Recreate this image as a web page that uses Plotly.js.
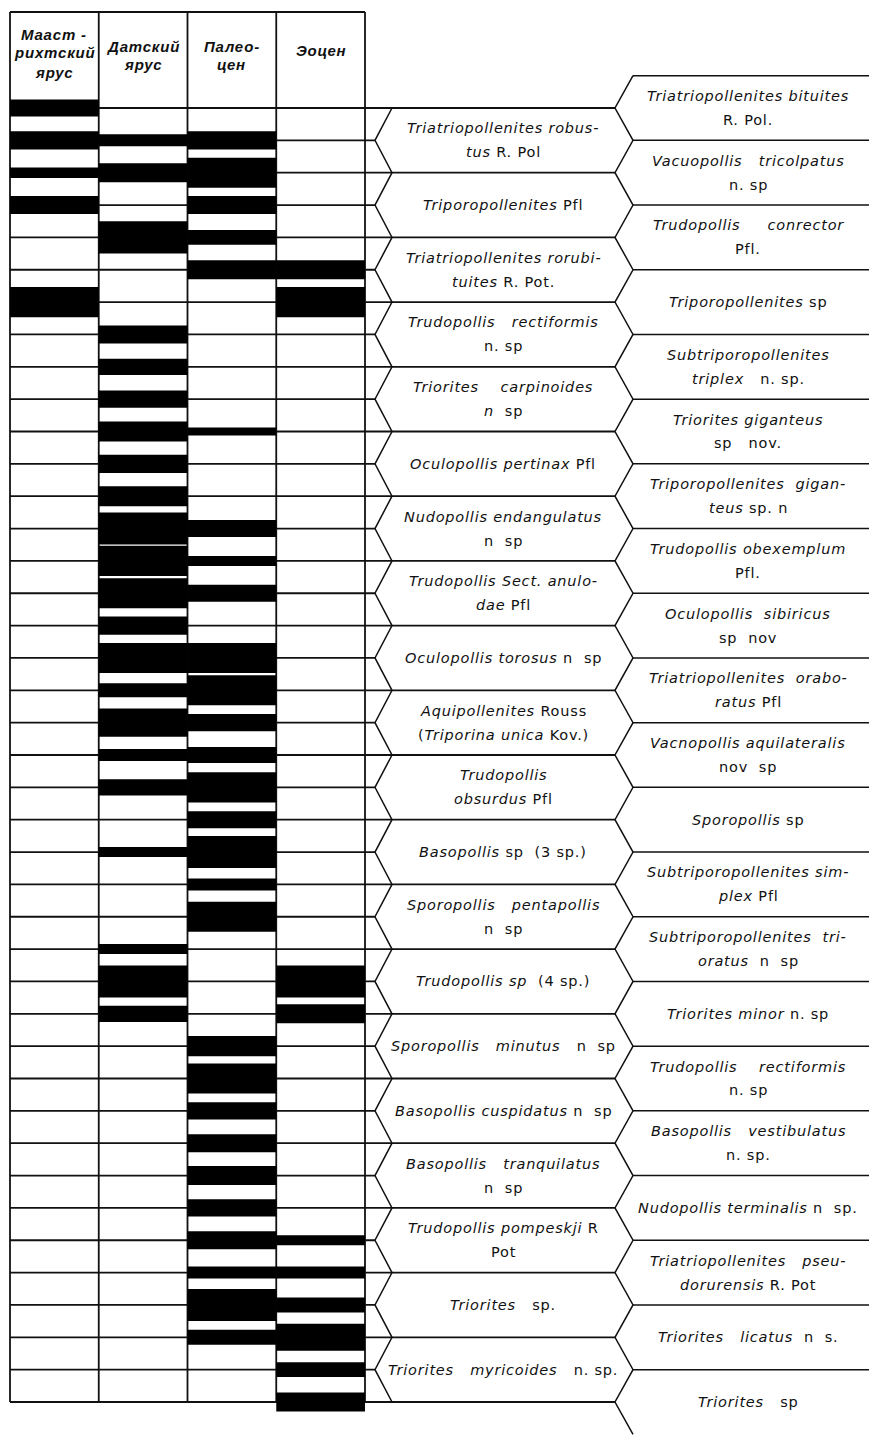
<!DOCTYPE html>
<html><head><meta charset="utf-8">
<script src="https://cdn.plot.ly/plotly-3.0.1.min.js"></script>
<style>html,body{margin:0;padding:0;background:#fff;}#chart{width:869px;height:1439px;}
.annotation-text{letter-spacing:0.8px;}</style>
</head><body><div id="chart"></div>
<script>
// ---------- DATA ----------
const stageLabels = [["Мааст -","рихтский","ярус"],["Датский","ярус"],["Палео-","цен"],["Эоцен"]];

// bar thickness (fraction of one row) for each of the 41 taxon lines, top to bottom
const maastrichtian = [0.53,0.56,0.32,0.56,0,0,0.93,0,0,0,0,0,0,0,0,0,0,0,0,0,0,0,0,0,0,0,0,0,0,0,0,0,0,0,0,0,0,0,0,0,0];
const danian        = [0,0.37,0.59,0,1.0,0,0,0.56,0.5,0.53,0.62,0.56,0.62,0.99,0.93,0.93,0.56,0.93,0.43,0.87,0.37,0.5,0,0.31,0,0,0.31,0.99,0.5,0,0,0,0,0,0,0,0,0,0,0,0];
const paleocene     = [0,0.56,0.93,0.56,0.46,0.59,0,0,0,0,0.25,0,0,0.53,0.31,0.53,0,0.93,0.93,0.53,0.5,0.93,0.53,0.99,0.37,0.93,0,0,0,0.62,0.93,0.53,0.56,0.59,0.53,0.56,0.37,0.99,0.46,0,0];
const eocene        = [0,0,0,0,0,0.59,0.93,0,0,0,0,0,0,0,0,0,0,0,0,0,0,0,0,0,0,0,0,0.99,0.59,0,0,0,0,0,0,0.31,0.37,0.46,0.83,0.46,0.59];

// taxa attached to odd lines (left list) and even lines (right list); "|" = line break
const leftTaxa = [
"<i>Triatriopollenites robus-</i>|<i>tus</i> R. Pol",
"<i>Triporopollenites</i> Pfl",
"<i>Triatriopollenites rorubi-</i>|<i>tuites</i> R. Pot.",
"<i>Trudopollis   rectiformis</i>|n. sp",
"<i>Triorites    carpinoides</i>|<i>n</i>  sp",
"<i>Oculopollis pertinax</i> Pfl",
"<i>Nudopollis endangulatus</i>|n  sp",
"<i>Trudopollis Sect. anulo-</i>|<i>dae</i> Pfl",
"<i>Oculopollis torosus</i> n  sp",
"<i>Aquipollenites</i> Rouss|(<i>Triporina unica</i> Kov.)",
"<i>Trudopollis</i>|<i>obsurdus</i> Pfl",
"<i>Basopollis</i> sp  (3 sp.)",
"<i>Sporopollis   pentapollis</i>|n  sp",
"<i>Trudopollis sp</i>  (4 sp.)",
"<i>Sporopollis   minutus</i>   n  sp",
"<i>Basopollis cuspidatus</i> n  sp",
"<i>Basopollis   tranquilatus</i>|n  sp",
"<i>Trudopollis pompeskji</i> R|Pot",
"<i>Triorites</i>   sp.",
"<i>Triorites   myricoides</i>   n. sp."
];
const rightTaxa = [
"<i>Triatriopollenites bituites</i>|R. Pol.",
"<i>Vacuopollis   tricolpatus</i>|n. sp",
"<i>Trudopollis     conrector</i>|Pfl.",
"<i>Triporopollenites</i> sp",
"<i>Subtriporopollenites</i>|<i>triplex</i>   n. sp.",
"<i>Triorites giganteus</i>|sp   nov.",
"<i>Triporopollenites  gigan-</i>|<i>teus</i> sp. n",
"<i>Trudopollis obexemplum</i>|Pfl.",
"<i>Oculopollis  sibiricus</i>|sp  nov",
"<i>Triatriopollenites  orabo-</i>|<i>ratus</i> Pfl",
"<i>Vacnopollis aquilateralis</i>|nov  sp",
"<i>Sporopollis</i> sp",
"<i>Subtriporopollenites sim-</i>|<i>plex</i> Pfl",
"<i>Subtriporopollenites  tri-</i>|<i>oratus</i>  n  sp",
"<i>Triorites minor</i> n. sp",
"<i>Trudopollis    rectiformis</i>|n. sp",
"<i>Basopollis   vestibulatus</i>|n. sp.",
"<i>Nudopollis terminalis</i> n  sp.",
"<i>Triatriopollenites   pseu-</i>|<i>dorurensis</i> R. Pot",
"<i>Triorites   licatus</i>  n  s.",
"<i>Triorites</i>   sp"
];

// ---------- GEOMETRY ----------
const W = 869, H = 1439;
const ROW0 = 108, ROWH = 32.35, COL0 = 10, COLW = 88.75;
const px2x = p => (p - COL0) / COLW;
const py2y = p => (p - ROW0) / ROWH;
const nRows = leftTaxa.length + rightTaxa.length;
const rows = [...Array(nRows).keys()];
const stageData = [maastrichtian, danian, paleocene, eocene];
const LBOX_L = 392, LBOX_TIP = 375, MID_A = 615, MID_B = 633;
const FONT = "DejaVu Sans, Liberation Sans, Arial, sans-serif";

// bars
const traces = stageData.map((arr, s) => {
  const ys = [], ws = [], xs = [], bs = [];
  arr.forEach((t, k) => { if (t > 0) { ys.push(k); ws.push(t); xs.push(1); bs.push(s); } });
  return {type: 'bar', orientation: 'h', y: ys, x: xs, base: bs, width: ws,
          marker: {color: '#000', line: {width: 0}}, hoverinfo: 'skip', showlegend: false};
});

const shapes = [];
const LC = '#111';
const line = (x0, y0, x1, y1, w, layer) => shapes.push({type: 'line', xref: 'x', yref: 'y', x0, y0, x1, y1, line: {color: LC, width: w}, layer: layer || 'below'});
// row lines
rows.forEach(k => line(0, k, px2x(k % 2 === 0 ? MID_A : LBOX_TIP), k, 1.8));
// table verticals + top border
const yTop = py2y(12);
for (let c = 0; c <= stageLabels.length; c++) line(c, yTop, c, nRows - 1, 1.8);
line(0, yTop, stageLabels.length, yTop, 1.8);
// left-box left zigzag
let p = '';
rows.forEach(k => { p += (k === 0 ? 'M' : 'L') + px2x(k % 2 ? LBOX_TIP : LBOX_L) + ',' + k + ' '; });
shapes.push({type: 'path', xref: 'x', yref: 'y', path: p, line: {color: LC, width: 1.5}, layer: 'below'});
// middle zigzag
p = '';
for (let k = -1; k <= nRows; k++) p += (k === -1 ? 'M' : 'L') + px2x(k % 2 === 0 ? MID_A : MID_B) + ',' + k + ' ';
shapes.push({type: 'path', xref: 'x', yref: 'y', path: p, line: {color: LC, width: 1.5}, layer: 'below'});
// right box edges (odd lines)
for (let k = -1; k < nRows; k += 2) line(px2x(MID_B), k, px2x(W), k, 1.5);

// annotations
const annotations = [];
const fix = s => s.replace(/ {2,}/g, m => ' ' + '\u00A0'.repeat(m.length - 1));
function addLabel(txt, xpx, k) {
  const parts = txt.split('|');
  const off = 0.37;
  parts.forEach((t, i) => {
    const dy = parts.length === 1 ? 0 : (i === 0 ? -off : off);
    annotations.push({x: px2x(xpx), y: k + dy, xref: 'x', yref: 'y', text: fix(t), showarrow: false,
      xanchor: 'center', yanchor: 'middle', font: {family: FONT, size: 14.5, color: '#111'}});
  });
}
leftTaxa.forEach((t, i) => addLabel(t, 503, 2 * i + 1));
rightTaxa.forEach((t, i) => addLabel(t, 748, 2 * i));

// header
const headY = [[34, 52, 72], [46, 64], [46, 64], [50]];
stageLabels.forEach((lines, s) => {
  lines.forEach((t, i) => annotations.push({x: s + 0.5, y: py2y(headY[s][i]), xref: 'x', yref: 'y',
    text: '<b><i>' + t + '</i></b>', showarrow: false, xanchor: 'center', yanchor: 'middle',
    font: {family: "Liberation Sans, Arial, sans-serif", size: 15, color: '#111'}}));
});

const layout = {
  width: W, height: H, margin: {l: 0, r: 0, t: 0, b: 0},
  paper_bgcolor: '#fff', plot_bgcolor: '#fff', barmode: 'overlay', showlegend: false,
  xaxis: {range: [px2x(0), px2x(W)], visible: false, fixedrange: true},
  yaxis: {range: [py2y(H), py2y(0)], visible: false, fixedrange: true},
  shapes, annotations
};
Plotly.newPlot('chart', traces, layout, {staticPlot: true, displayModeBar: false});
</script></body></html>
